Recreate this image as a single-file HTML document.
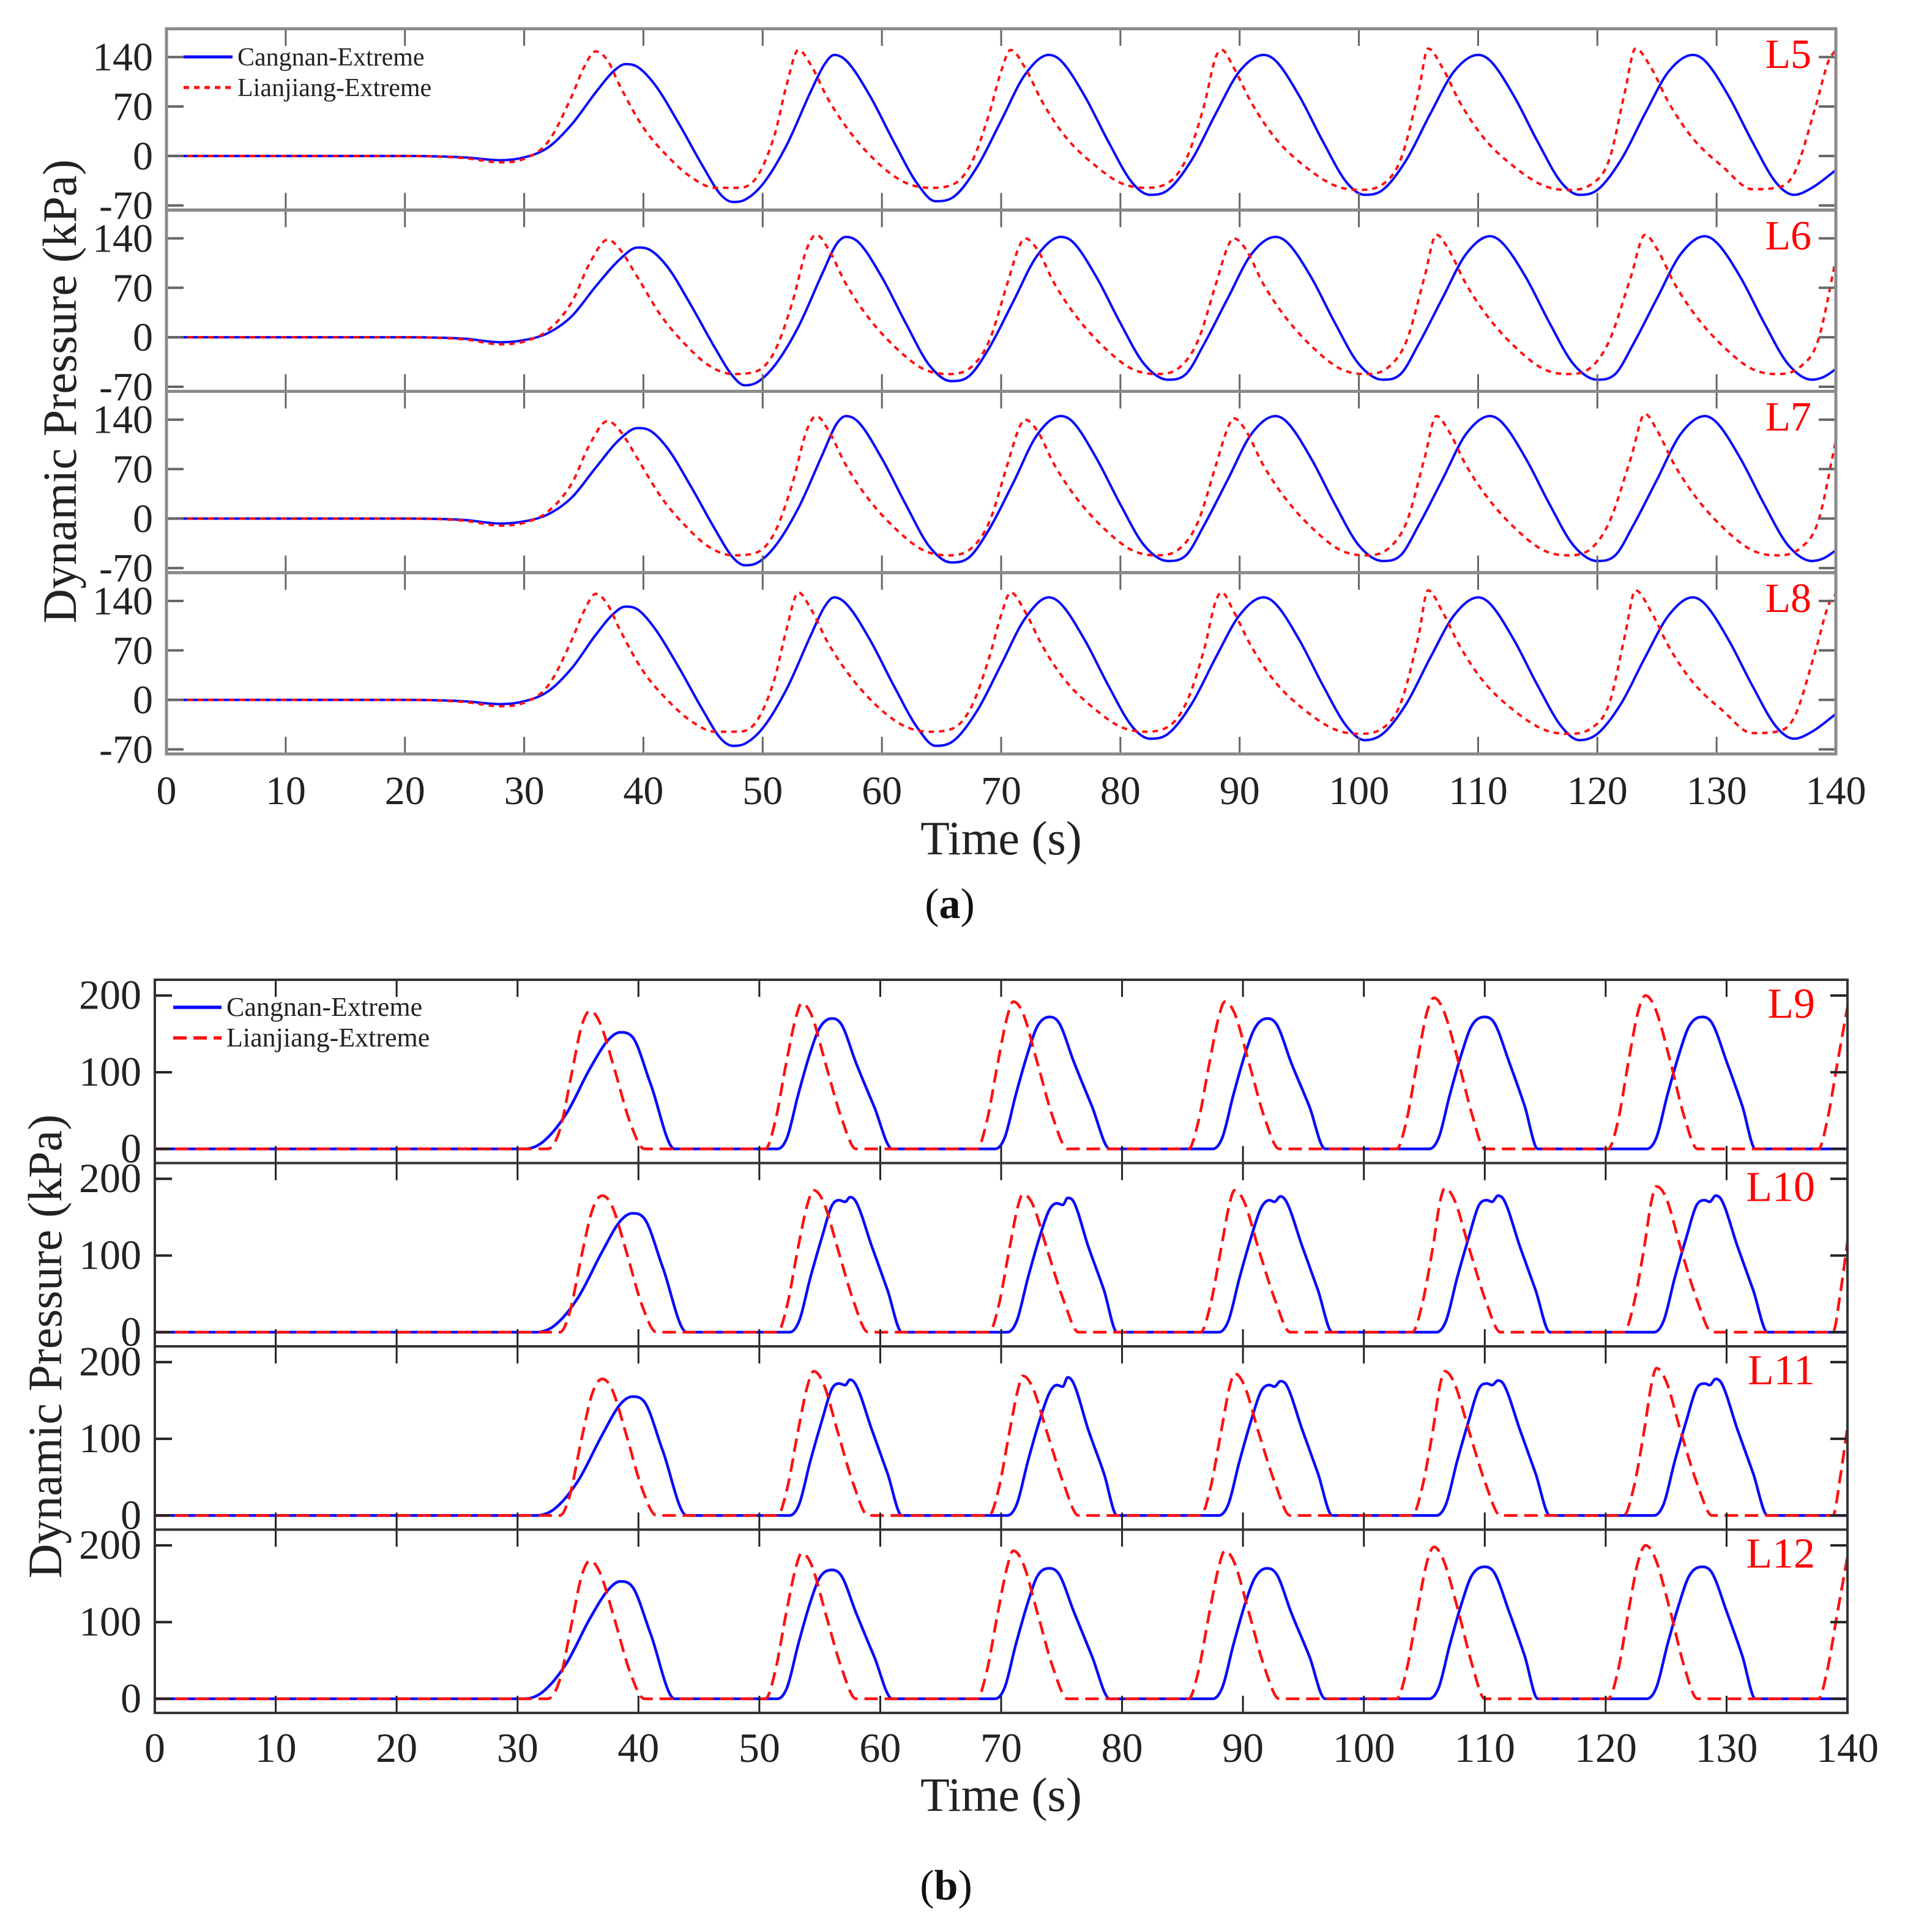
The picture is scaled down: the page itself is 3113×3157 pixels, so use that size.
<!DOCTYPE html>
<html><head><meta charset="utf-8"><style>
html,body{margin:0;padding:0;background:#fff;}
svg{display:block;}
text{font-family:"Liberation Serif",serif;}
</style></head>
<body>
<svg id="fig" width="3113" height="3157" viewBox="0 0 3113 3157" xmlns="http://www.w3.org/2000/svg">
<rect width="3113" height="3157" fill="#fff"/>
<g id="root"></g>
</svg>
<script>
// ---- shared axis data ----
const xTicks = [0,10,20,30,40,50,60,70,80,90,100,110,120,130,140];
const yTicksA = [140,70,0,-70];
const yTickLabelsA = ["140","70","0","-70"];
const yTicksB = [200,100,0];
const yTickLabelsB = ["200","100","0"];
const panelANames = ["L5","L6","L7","L8"];
const panelBNames = ["L9","L10","L11","L12"];
const seriesNames = ["Cangnan-Extreme","Lianjiang-Extreme"];

// ---- panel (a) series ----
const a5Cangnan = [[0,0],[20,0],[25,-2],[28,-6],[30,-2],[32,12],[34,45],[36,90],[37.5,120],[38.5,130],[39.5,126],[41,100],[43,45],[45,-15],[46.5,-55],[47.5,-65],[48.5,-62],[50,-40],[52,15],[54,90],[55.2,130],[56,143],[57,135],[59,85],[61,20],[63,-40],[64.5,-64],[66,-58],[68,-15],[70,50],[72,115],[74,143],[75,135],[77,85],[79,20],[81,-38],[82.5,-55],[84,-48],[86,-5],[88,60],[90,120],[92,143],[93,135],[95,85],[97,20],[99,-38],[100.5,-55],[102,-48],[104,-5],[106,60],[108,120],[110,143],[111,135],[113,85],[115,20],[117,-38],[118.5,-55],[120,-48],[122,-5],[124,60],[126,120],[128,143],[129,135],[131,85],[133,20],[135,-38],[136.5,-55],[138,-45],[140,-20]];
const a5Lianjiang = [[0,0],[20,0],[25,-3],[28,-9],[30,-4],[32,20],[34,85],[35,125],[36,148],[37,135],[38,100],[40,40],[42,0],[44,-30],[46,-45],[48,-45],[49.5,-30],[51,30],[52,100],[53,150],[54,130],[55.5,80],[57.5,30],[60,-15],[62,-38],[64,-45],[66,-40],[67.5,-10],[69,60],[70,120],[70.8,150],[72,125],[73.5,75],[75.5,25],[78,-15],[80,-38],[82,-45],[84,-38],[85.5,-5],[87,70],[88,140],[88.5,150],[89.5,125],[91,75],[93,25],[95.5,-15],[98,-42],[100,-48],[102,-40],[103.5,-5],[105,90],[105.8,152],[107,125],[108.5,75],[110.5,25],[113,-15],[115.5,-42],[117.5,-48],[119.5,-40],[121,-5],[122.3,90],[123.2,152],[124.5,125],[126,75],[128,25],[130.5,-15],[133,-47],[135,-45],[136.5,-25],[138.3,70],[139.4,135],[140,150]];
const a6Cangnan = [[0,0],[20,0],[25,-2],[28,-7],[30,-4],[32,6],[34,30],[36,72],[38,110],[39.5,127],[40.5,124],[42,100],[44,45],[46,-15],[47.5,-55],[48.5,-68],[49.5,-64],[51,-40],[53,15],[55,90],[56.2,132],[57,142],[58,135],[60,85],[62,20],[64,-40],[65.8,-62],[67.3,-55],[69,-15],[71,50],[73,115],[75,142],[76,135],[78,85],[80,20],[82,-38],[84,-60],[85.5,-52],[87,-10],[89,55],[91,118],[93,142],[94,134],[96,85],[98,20],[100,-38],[102,-60],[103.5,-52],[105,-10],[107,55],[109,118],[111,143],[112,134],[114,85],[116,20],[118,-38],[120,-60],[121.5,-52],[123,-10],[125,55],[127,118],[129,143],[130,134],[132,85],[134,20],[136,-38],[138,-60],[139,-56],[140,-45]];
const a6Lianjiang = [[0,0],[20,0],[25,-3],[28,-10],[30,-6],[32,10],[34,50],[35.5,105],[37,138],[38,125],[39.5,85],[41.5,30],[43.5,-10],[45.5,-40],[47.5,-52],[49.5,-48],[51,-20],[52.5,50],[53.7,125],[54.5,145],[55.5,125],[57,75],[59,25],[61.5,-20],[63.5,-45],[65.5,-52],[67.5,-42],[69,-5],[70.5,75],[71.5,128],[72,140],[73,125],[74.5,75],[76.5,25],[79,-20],[81,-45],[83,-52],[85,-42],[86.5,-5],[88,75],[89,128],[89.5,140],[90.5,125],[92,75],[94,25],[96.5,-20],[98.5,-45],[100.5,-52],[102.5,-42],[104,-5],[105.5,85],[106.5,145],[107.5,125],[109,75],[111,25],[113.5,-20],[115.5,-45],[117.5,-52],[119.5,-42],[121,-5],[122.8,85],[124,145],[125,125],[126.5,75],[128.5,25],[131,-20],[133,-45],[135,-52],[137,-42],[138.5,-5],[140,110]];
const a7Cangnan = [[0,0],[20,0],[25,-2],[28,-7],[30,-4],[32,6],[34,30],[36,72],[38,112],[39.5,128],[40.5,125],[42,100],[44,45],[46,-15],[47.5,-55],[48.5,-66],[49.5,-63],[51,-40],[53,15],[55,90],[56.2,134],[57,145],[58,137],[60,85],[62,20],[64,-40],[65.8,-62],[67.3,-55],[69,-15],[71,50],[73,118],[75,145],[76,137],[78,85],[80,20],[82,-38],[84,-60],[85.5,-52],[87,-10],[89,55],[91,120],[93,145],[94,136],[96,85],[98,20],[100,-38],[102,-60],[103.5,-52],[105,-10],[107,55],[109,120],[111,145],[112,136],[114,85],[116,20],[118,-38],[120,-60],[121.5,-52],[123,-10],[125,55],[127,120],[129,145],[130,136],[132,85],[134,20],[136,-38],[138,-60],[139,-56],[140,-45]];
const a7Lianjiang = [[0,0],[20,0],[25,-3],[28,-10],[30,-6],[32,10],[34,50],[35.5,105],[37,138],[38,125],[39.5,85],[41.5,30],[43.5,-10],[45.5,-40],[47.5,-52],[49.5,-48],[51,-20],[52.5,50],[53.7,125],[54.5,145],[55.5,125],[57,75],[59,25],[61.5,-20],[63.5,-45],[65.5,-52],[67.5,-42],[69,-5],[70.5,75],[71.5,128],[72,140],[73,125],[74.5,75],[76.5,25],[79,-20],[81,-45],[83,-52],[85,-42],[86.5,-5],[88,75],[89,128],[89.5,142],[90.5,125],[92,75],[94,25],[96.5,-20],[98.5,-45],[100.5,-52],[102.5,-42],[104,-5],[105.5,85],[106.5,145],[107.5,125],[109,75],[111,25],[113.5,-20],[115.5,-45],[117.5,-52],[119.5,-42],[121,-5],[122.8,85],[124,148],[125,125],[126.5,75],[128.5,25],[131,-20],[133,-45],[135,-52],[137,-42],[138.5,-5],[140,110]];
const a8Cangnan = [[0,0],[20,0],[25,-2],[28,-6],[30,-2],[32,12],[34,45],[36,92],[37.5,122],[38.5,132],[39.5,128],[41,100],[43,45],[45,-15],[46.5,-55],[47.5,-65],[48.5,-62],[50,-40],[52,15],[54,90],[55.2,132],[56,145],[57,136],[59,85],[61,20],[63,-40],[64.5,-65],[66,-58],[68,-15],[70,50],[72,115],[74,145],[75,136],[77,85],[79,20],[81,-38],[82.5,-55],[84,-48],[86,-5],[88,60],[90,120],[92,145],[93,136],[95,85],[97,20],[99,-38],[100.5,-57],[102,-48],[104,-5],[106,60],[108,120],[110,145],[111,136],[113,85],[115,20],[117,-38],[118.5,-57],[120,-48],[122,-5],[124,60],[126,120],[128,145],[129,136],[131,85],[133,20],[135,-38],[136.5,-55],[138,-45],[140,-20]];
const a8Lianjiang = [[0,0],[20,0],[25,-3],[28,-9],[30,-4],[32,20],[34,85],[35,125],[36,150],[37,135],[38,100],[40,40],[42,0],[44,-30],[46,-45],[48,-45],[49.5,-30],[51,30],[52,100],[53,152],[54,130],[55.5,80],[57.5,30],[60,-15],[62,-38],[64,-45],[66,-40],[67.5,-10],[69,60],[70,120],[70.8,152],[72,125],[73.5,75],[75.5,25],[78,-15],[80,-38],[82,-45],[84,-38],[85.5,-5],[87,70],[88,140],[88.5,152],[89.5,125],[91,75],[93,25],[95.5,-15],[98,-42],[100,-48],[102,-40],[103.5,-5],[105,90],[105.8,155],[107,125],[108.5,75],[110.5,25],[113,-15],[115.5,-42],[117.5,-48],[119.5,-40],[121,-5],[122.3,90],[123.2,155],[124.5,125],[126,75],[128,25],[130.5,-15],[133,-47],[135,-45],[136.5,-25],[138.3,70],[139.4,135],[140,150]];

// ---- panel (b) series ----
const b9Cangnan = [[0,0],[30.5,0],[32,8],[34,45],[36,105],[37.5,142],[38.5,152],[39.5,146],[41,85],[43,0],[51.5,0],[52.3,15],[53.2,70],[54.2,125],[55,158],[56,170],[56.8,162],[58,112],[59.5,55],[61,0],[69.5,0],[70.3,15],[71.2,70],[72.2,125],[73,160],[74,172],[74.8,164],[76,114],[77.5,56],[79,0],[87.5,0],[88.3,15],[89.2,70],[90.2,125],[91,158],[92,170],[92.8,162],[94,112],[95.5,55],[96.8,0],[105.4,0],[106.2,15],[107.1,70],[108.1,125],[108.9,160],[110,172],[110.8,164],[112,114],[113.3,56],[114.4,0],[123.4,0],[124.2,15],[125.1,70],[126.1,125],[126.9,160],[128,172],[128.8,164],[130,114],[131.3,56],[132.4,0],[140,0]];
const b9Lianjiang = [[0,0],[32.5,0],[33.5,25],[34.5,100],[35.3,160],[36,180],[36.8,165],[38,105],[39.3,35],[40.5,0],[50.5,0],[51.3,35],[52.2,110],[53,170],[53.5,190],[54.3,175],[55.5,110],[56.8,40],[58,0],[68,0],[68.8,35],[69.7,110],[70.5,172],[71,192],[71.8,177],[73,112],[74.3,40],[75.5,0],[85.5,0],[86.3,35],[87.2,110],[88,172],[88.5,192],[89.3,177],[90.5,112],[91.8,40],[93,0],[102.7,0],[103.5,35],[104.4,112],[105.2,177],[105.8,197],[106.6,180],[107.8,115],[109,42],[110,0],[120.2,0],[121,35],[121.9,115],[122.7,180],[123.3,200],[124.1,183],[125.3,117],[126.5,42],[127.6,0],[137.6,0],[138.3,35],[139.2,115],[140,185]];
const b10Cangnan = [[0,0],[31.5,0],[33,8],[35,45],[37,105],[38.5,145],[39.5,155],[40.5,148],[42,85],[44,0],[52.5,0],[53.3,15],[54.2,70],[55.2,125],[56,165],[56.6,172],[57.1,170],[57.5,176],[58,170],[59.3,112],[60.6,55],[61.8,0],[70.5,0],[71.3,15],[72.2,70],[73.2,125],[74,160],[74.6,168],[75.1,166],[75.5,175],[76,170],[77.2,112],[78.5,55],[79.6,0],[88,0],[88.8,15],[89.7,70],[90.7,125],[91.5,162],[92.2,172],[92.6,170],[93.1,177],[93.6,170],[94.9,112],[96.2,55],[97.4,0],[106,0],[106.8,15],[107.7,70],[108.7,125],[109.5,165],[110.2,172],[110.6,170],[111.1,178],[111.6,172],[112.9,112],[114.2,55],[115.4,0],[124,0],[124.8,15],[125.7,70],[126.7,125],[127.5,165],[128.2,172],[128.6,170],[129.1,178],[129.6,172],[130.9,112],[132.2,55],[133.4,0],[140,0]];
const b10Lianjiang = [[0,0],[33.5,0],[34.3,25],[35.3,100],[36.2,160],[37,178],[37.8,165],[39,105],[40.3,35],[41.5,0],[51.5,0],[52.3,35],[53.2,110],[54,168],[54.5,185],[55.3,170],[56.5,108],[57.8,40],[59,0],[69,0],[69.8,35],[70.7,110],[71.4,165],[71.8,180],[72.6,167],[73.8,108],[75.2,40],[76.4,0],[86.5,0],[87.3,35],[88.2,110],[88.9,168],[89.3,185],[90.1,170],[91.3,108],[92.7,40],[93.9,0],[104,0],[104.8,35],[105.7,110],[106.3,170],[106.7,188],[107.5,172],[108.7,110],[110.1,40],[111.3,0],[121.5,0],[122.3,35],[123.2,112],[123.8,172],[124.2,190],[125,175],[126.2,110],[127.6,40],[128.8,0],[138.8,0],[139.4,50],[140,118]];
const b11Cangnan = [[0,0],[31.5,0],[33,8],[35,45],[37,105],[38.5,145],[39.5,155],[40.5,148],[42,85],[44,0],[52.5,0],[53.3,15],[54.2,70],[55.2,125],[56,165],[56.6,172],[57.1,170],[57.5,177],[58,170],[59.3,112],[60.6,55],[61.8,0],[70.5,0],[71.3,15],[72.2,70],[73.2,125],[74,160],[74.6,170],[75.1,168],[75.5,180],[76,172],[77.2,112],[78.5,55],[79.6,0],[88,0],[88.8,15],[89.7,70],[90.7,125],[91.5,162],[92.2,170],[92.6,168],[93.1,175],[93.6,170],[94.9,112],[96.2,55],[97.4,0],[106,0],[106.8,15],[107.7,70],[108.7,125],[109.5,165],[110.2,172],[110.6,170],[111.1,176],[111.6,170],[112.9,112],[114.2,55],[115.4,0],[124,0],[124.8,15],[125.7,70],[126.7,125],[127.5,165],[128.2,172],[128.6,170],[129.1,178],[129.6,172],[130.9,112],[132.2,55],[133.4,0],[140,0]];
const b11Lianjiang = [[0,0],[33.5,0],[34.3,25],[35.3,100],[36.2,160],[37,178],[37.8,165],[39,105],[40.3,35],[41.5,0],[51.5,0],[52.3,35],[53.2,110],[54,170],[54.5,188],[55.3,172],[56.5,108],[57.8,40],[59,0],[69,0],[69.8,35],[70.7,110],[71.4,165],[71.8,182],[72.6,167],[73.8,108],[75.2,40],[76.4,0],[86.5,0],[87.3,35],[88.2,110],[88.9,168],[89.3,185],[90.1,170],[91.3,108],[92.7,40],[93.9,0],[104,0],[104.8,35],[105.7,110],[106.3,170],[106.7,188],[107.5,172],[108.7,110],[110.1,40],[111.3,0],[121.5,0],[122.3,35],[123.2,112],[123.8,172],[124.2,192],[125,175],[126.2,110],[127.6,40],[128.8,0],[138.8,0],[139.4,50],[140,115]];
const b12Cangnan = [[0,0],[30.5,0],[32,8],[34,45],[36,105],[37.5,142],[38.5,153],[39.5,146],[41,85],[43,0],[51.5,0],[52.3,15],[53.2,70],[54.2,125],[55,158],[56,168],[56.8,160],[58,112],[59.5,55],[61,0],[69.5,0],[70.3,15],[71.2,70],[72.2,125],[73,160],[74,170],[74.8,162],[76,114],[77.5,56],[79,0],[87.5,0],[88.3,15],[89.2,70],[90.2,125],[91,158],[92,170],[92.8,162],[94,112],[95.5,55],[96.8,0],[105.4,0],[106.2,15],[107.1,70],[108.1,125],[108.9,160],[110,172],[110.8,164],[112,114],[113.3,56],[114.4,0],[123.4,0],[124.2,15],[125.1,70],[126.1,125],[126.9,160],[128,172],[128.8,164],[130,114],[131.3,56],[132.4,0],[140,0]];
const b12Lianjiang = [[0,0],[32.5,0],[33.5,25],[34.5,100],[35.3,160],[36,180],[36.8,165],[38,105],[39.3,35],[40.5,0],[50.5,0],[51.3,35],[52.2,110],[53,170],[53.5,190],[54.3,175],[55.5,110],[56.8,40],[58,0],[68,0],[68.8,35],[69.7,110],[70.5,172],[71,193],[71.8,177],[73,112],[74.3,40],[75.5,0],[85.5,0],[86.3,35],[87.2,110],[88,172],[88.5,193],[89.3,177],[90.5,112],[91.8,40],[93,0],[102.7,0],[103.5,35],[104.4,112],[105.2,177],[105.8,198],[106.6,180],[107.8,115],[109,42],[110,0],[120.2,0],[121,35],[121.9,115],[122.7,180],[123.3,200],[124.1,183],[125.3,117],[126.5,42],[127.6,0],[137.6,0],[138.3,35],[139.2,115],[140,185]];

const aCangnan = [a5Cangnan,a6Cangnan,a7Cangnan,a8Cangnan];
const aLianjiang = [a5Lianjiang,a6Lianjiang,a7Lianjiang,a8Lianjiang];
const bCangnan = [b9Cangnan,b10Cangnan,b11Cangnan,b12Cangnan];
const bLianjiang = [b9Lianjiang,b10Lianjiang,b11Lianjiang,b12Lianjiang];

const NS = "http://www.w3.org/2000/svg";
const root = document.getElementById("root");
function mk(tag, attrs, parent, txt){
  const e = document.createElementNS(NS, tag);
  for (const k in attrs) e.setAttribute(k, attrs[k]);
  if (txt !== undefined) e.textContent = txt;
  (parent||root).appendChild(e);
  return e;
}
function monoPath(pts){
  const n = pts.length; const xs = pts.map(p=>p[0]), ys = pts.map(p=>p[1]);
  const d = [], m = new Array(n);
  for (let i=0;i<n-1;i++) d.push((ys[i+1]-ys[i])/(xs[i+1]-xs[i]));
  m[0]=d[0]; m[n-1]=d[n-2];
  for (let i=1;i<n-1;i++){ if (d[i-1]*d[i]<=0) m[i]=0; else m[i]=(d[i-1]+d[i])/2; }
  for (let i=0;i<n-1;i++){
    if (d[i]===0){ m[i]=0; m[i+1]=0; continue; }
    const a=m[i]/d[i], b=m[i+1]/d[i], s=a*a+b*b;
    if (s>9){ const t=3/Math.sqrt(s); m[i]=t*a*d[i]; m[i+1]=t*b*d[i]; }
  }
  let p = "M"+xs[0].toFixed(2)+","+ys[0].toFixed(2);
  for (let i=0;i<n-1;i++){
    const h=(xs[i+1]-xs[i])/3;
    p += "C"+(xs[i]+h).toFixed(2)+","+(ys[i]+m[i]*h).toFixed(2)+" "+(xs[i+1]-h).toFixed(2)+","+(ys[i+1]-m[i+1]*h).toFixed(2)+" "+xs[i+1].toFixed(2)+","+ys[i+1].toFixed(2);
  }
  return p;
}

function drawPanel(cfg){
  const g = mk("g", {});
  
  
  const W = cfg.right - cfg.left;
  const xs = t => cfg.left + (t/140)*W;
  for (let k=0;k<4;k++){
    const top = cfg.top + k*cfg.h, bot = top + cfg.h;
    const ys = v => top + (cfg.ymax - v)/(cfg.ymax - cfg.ymin)*cfg.h;
    const sub = mk("g", {}, g);
    
    
    const cid = "clip"+cfg.id+k;
    const cp = mk("clipPath", {id:cid}, sub);
    mk("rect", {x:cfg.left, y:top, width:W, height:cfg.h}, cp);
    const toPx = arr => arr.map(p=>[xs(p[0]), ys(p[1])]);
    const bl = mk("path", {d:monoPath(toPx(cfg.blue[k])), fill:"none", stroke:"#0a0aff", "stroke-width":cfg.lw, "clip-path":"url(#"+cid+")", "stroke-linejoin":"round"}, sub);
    
    
    const rd = mk("path", {d:monoPath(toPx(cfg.red[k])), fill:"none", stroke:"#ff1010", "stroke-width":cfg.lw, "stroke-dasharray":cfg.dash, "clip-path":"url(#"+cid+")"}, sub);
    
    
    xTicks.forEach(t=>{
      if (t===0||t===140) return;
      const tk1 = mk("line", {x1:xs(t),x2:xs(t),y1:top,y2:top+28,stroke:cfg.tickColor,"stroke-width":3}, sub);
      
      
      const tk2 = mk("line", {x1:xs(t),x2:xs(t),y1:bot,y2:bot-28,stroke:cfg.tickColor,"stroke-width":3}, sub);
      
      
    });
    cfg.yt.forEach((v,i)=>{
      const y = ys(v);
      const t1 = mk("line", {x1:cfg.left,x2:cfg.left+28,y1:y,y2:y,stroke:cfg.tickColor,"stroke-width":4}, sub);
      
      
      const t2 = mk("line", {x1:cfg.right,x2:cfg.right-28,y1:y,y2:y,stroke:cfg.tickColor,"stroke-width":4}, sub);
      
      
      const lb = mk("text", {x:cfg.left-22, y:y+22, "text-anchor":"end", "font-size":cfg.tickFont, fill:"#222"}, sub, cfg.ytl[i]);
      
      
    });
    const fr = mk("rect", {x:cfg.left, y:top, width:W, height:cfg.h, fill:"none", stroke:cfg.frameColor, "stroke-width":cfg.frameW}, sub);
    
    
    const lab = mk("text", {x:cfg.labelX, y:top+cfg.labelDy, "text-anchor":"end", "font-size":cfg.labelFont, fill:"#ff0000"}, sub, cfg.labels[k]);
    
    
    if (k===0){
      const lg = mk("g", {}, sub);
      
      
      cfg.legRows.forEach((ly,i)=>{
        const e = mk("g", {}, lg);
        
        
        mk("line", {x1:cfg.legX1,x2:cfg.legX2,y1:ly,y2:ly,stroke:i===0?"#0a0aff":"#ff1010","stroke-width":cfg.lw+1,"stroke-dasharray":i===0?"none":cfg.dash}, e);
        mk("text", {x:cfg.legX2+8, y:ly+14, "font-size":cfg.legFont, fill:"#222"}, e, seriesNames[i]);
      });
    }
  }
  const bottom = cfg.top + 4*cfg.h;
  xTicks.forEach(t=>{
    const lb = mk("text", {x:xs(t), y:bottom+cfg.xlabDy, "text-anchor":"middle", "font-size":cfg.tickFont, fill:"#222"}, g, String(t));
    
    
  });
  const xt = mk("text", {x:(cfg.left+cfg.right)/2, y:bottom+cfg.xtitleDy, "text-anchor":"middle", "font-size":78, fill:"#222"}, g, "Time (s)");
  
  
  const cy = cfg.top + 2*cfg.h;
  const yt = mk("text", {x:cfg.ytitleX, y:cy, "text-anchor":"middle", "font-size":78, fill:"#222", transform:"rotate(-90 "+cfg.ytitleX+" "+cy+")"}, g, "Dynamic Pressure (kPa)");
  
  
  const cap = mk("text", {x:cfg.capX, y:cfg.capY, "text-anchor":"middle", "font-size":70, fill:"#111"}, g);
  
  
  mk("tspan", {}, cap, "(");
  mk("tspan", {"font-weight":"bold"}, cap, cfg.id);
  mk("tspan", {}, cap, ")");
}

drawPanel({id:"a", name:"panel-a", left:272, right:3000, top:47, h:296.25, ymin:-76.5, ymax:180,
  yt:yTicksA, ytl:yTickLabelsA, labels:panelANames, blue:aCangnan, red:aLianjiang,
  lw:4, dash:"9 8", tickColor:"#666", frameColor:"#8a8a8a", frameW:5, tickFont:66,
  labelX:2960, labelDy:64, labelFont:68, legRows:[93,143], legX1:300, legX2:380, legFont:42,
  xlabDy:82, xtitleDy:164, ytitleX:124, capX:1552, capY:1500});
drawPanel({id:"b", name:"panel-b", left:253, right:3019, top:1601, h:299.5, ymin:-18.4, ymax:220.5,
  yt:yTicksB, ytl:yTickLabelsB, labels:panelBNames, blue:bCangnan, red:bLianjiang,
  lw:4.5, dash:"22 11", tickColor:"#222", frameColor:"#333", frameW:4, tickFont:68,
  labelX:2966, labelDy:62, labelFont:70, legRows:[1646,1696], legX1:283, legX2:362, legFont:44,
  xlabDy:80, xtitleDy:160, ytitleX:100, capX:1546, capY:3104});
</script>
</body></html>
